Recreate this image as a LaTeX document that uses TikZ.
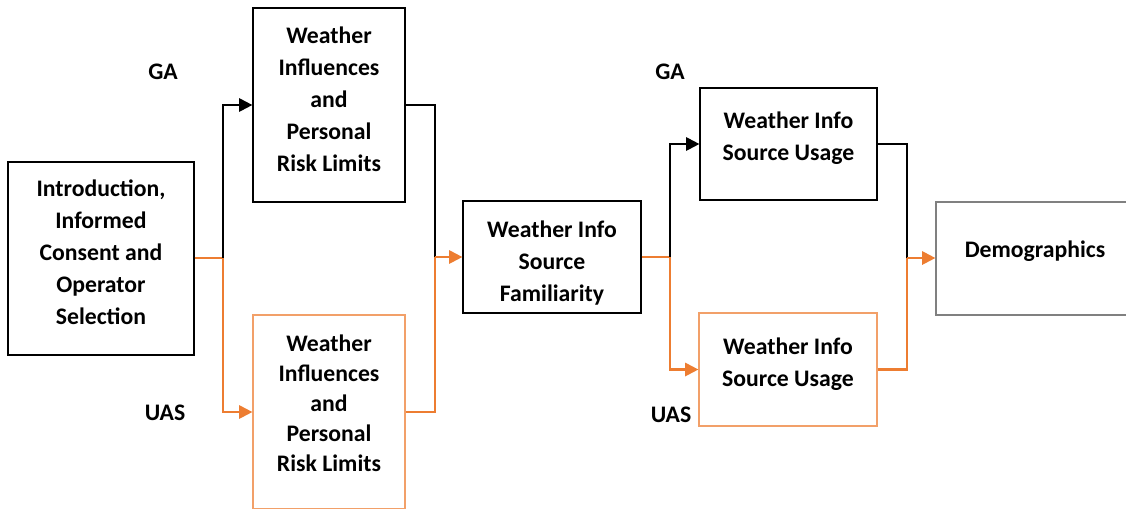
\documentclass[tikz,border=0pt]{standalone}
\usepackage{fontspec}
\setmainfont{Carlito}
\usepackage{xcolor}
\usepackage{tikz}
\usetikzlibrary{arrows.meta,positioning,calc}

\definecolor{uasorange}{RGB}{237,125,49}
\definecolor{uaslight}{RGB}{242,160,105}
\definecolor{demogray}{RGB}{128,128,128}

\begin{document}
\begin{tikzpicture}[
    x=0.02cm, y=-0.02cm,
    gabox/.style={rectangle, draw=black, line width=0.7pt, fill=white,
                  align=center, font=\fontsize{13.5}{18.2}\selectfont\bfseries},
    uasbox/.style={gabox, draw=uaslight},
    demobox/.style={gabox, draw=demogray},
    lbl/.style={font=\fontsize{13.5}{18.2}\selectfont\bfseries},
    arr/.style={line width=1.2pt, -{Triangle[length=7.5pt,width=7.5pt]}},
    lin/.style={line width=1.2pt},
]
\useasboundingbox (0,0) rectangle (1126,508);

%% --- Intro ------------------------------------------------------------------
\node[gabox, minimum width=3.72cm, minimum height=3.86cm] (intro) at (101,258.5)
    {Introduction,\\Informed\\Consent and\\Operator\\Selection\\[-11.4pt]};

%% --- Weather influences (GA / UAS) -------------------------------------------
\node[gabox, minimum width=3.04cm, minimum height=3.88cm] (wir_ga) at (329,105)
    {Weather\\Influences\\and\\Personal\\Risk Limits\\[-11.4pt]};
\node[uasbox, minimum width=3.04cm, minimum height=3.88cm,
      font=\fontsize{13.5}{17.07}\selectfont\bfseries] (wir_uas) at (329,412)
    {Weather\\Influences\\and\\Personal\\Risk Limits\\[-6.8pt]};

\node[lbl] (lbl_ga1)  at (163,72)  {GA};
\node[lbl] (lbl_uas1) at (165,413) {UAS};

%% --- Familiarity --------------------------------------------------------------
\node[gabox, minimum width=3.56cm, minimum height=2.24cm] (wisf) at (552,257)
    {Weather Info\\Source\\Familiarity\\[-22.7pt]};

%% --- Usage (GA / UAS) ----------------------------------------------------------
\node[gabox, minimum width=3.54cm, minimum height=2.24cm] (wisu_ga) at (788.5,144)
    {Weather Info\\Source Usage\\[-9.1pt]};
\node[uasbox, minimum width=3.56cm, minimum height=2.26cm] (wisu_uas) at (788,369.5)
    {Weather Info\\Source Usage\\[-10.2pt]};

\node[lbl] (lbl_ga2)  at (670,72)  {GA};
\node[lbl] (lbl_uas2) at (671,415) {UAS};

%% --- Demographics ---------------------------------------------------------------
\node[demobox, minimum width=3.96cm, minimum height=2.26cm] (demo) at (1035,258.5)
    {Demographics\\[-8pt]};

%% --- Junctions ----------------------------------------------------------------------
\coordinate (j1) at (223,258);
\coordinate (j2) at (435,257);
\coordinate (j3) at (670,257);
\coordinate (j4) at (907,258);

%% --- Fork from intro --------------------------------------------------------------
\draw[lin, uasorange] (intro.east |- j1) -- (j1);
\draw[arr] (j1) |- (wir_ga.west);
\draw[arr, uasorange] (j1) |- (wir_uas.west);

%% --- Convergence -> familiarity -------------------------------------------------
\draw[lin] (wir_ga.east) -| (j2);
\draw[lin, uasorange] (wir_uas.east) -| (j2);
\draw[arr, uasorange] (j2) -- (wisf.west |- j2);

%% --- Fork from familiarity -----------------------------------------------------
\draw[lin, uasorange] (wisf.east |- j3) -- (j3);
\draw[arr] (j3) |- (wisu_ga.west);
\draw[arr, uasorange] (j3) |- (wisu_uas.west);

%% --- Convergence -> demographics ----------------------------------------------
\draw[lin] (wisu_ga.east) -| (j4);
\draw[lin, uasorange] (wisu_uas.east) -| (j4);
\draw[arr, uasorange] (j4) -- (demo.west |- j4);

\end{tikzpicture}
\end{document}
